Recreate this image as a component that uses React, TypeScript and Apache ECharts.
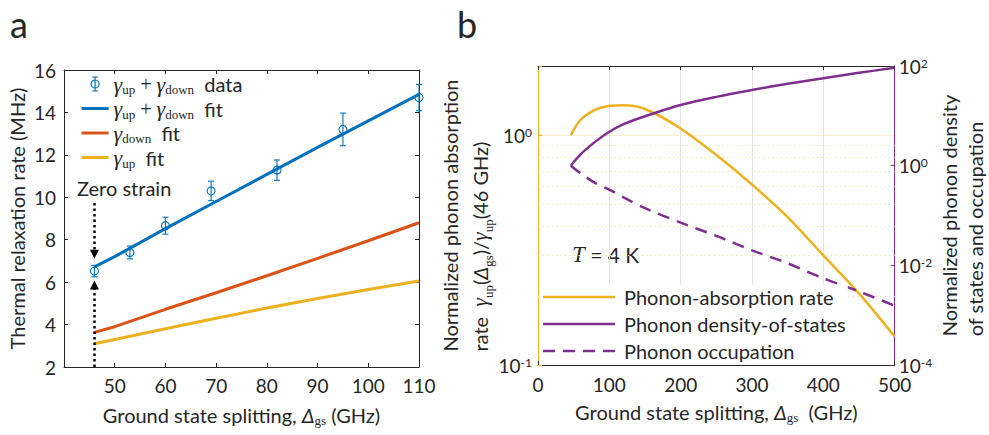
import React, { useEffect, useRef } from 'react';
import * as echarts from 'echarts';

const BLUE = '#0072BD';
const RED = '#D95319';
const YELLOW = '#EDB120';
const PURPLE = '#7E2F8E';
const INK = '#262626';
const SANS = 'Lato, "Noto Sans", "Liberation Sans", sans-serif';
const SERIF = '"Liberation Serif", "DejaVu Serif", serif';

// ---------- Panel a data ----------
const splittingGHz = [46, 53, 60, 69, 82, 95, 110];
const rateMHz = [6.52, 7.4, 8.66, 10.3, 11.28, 13.2, 14.7];
const rateErrMHz = [0.27, 0.3, 0.4, 0.46, 0.48, 0.77, 0.62];

const fitSplittingGHz = [46, 50, 60, 70, 80, 90, 100, 110];
const fitSumMHz = [6.72, 7.2, 8.52, 9.8, 11.08, 12.35, 13.6, 14.85];
const fitDownMHz = [3.63, 3.9, 4.72, 5.5, 6.3, 7.12, 7.95, 8.8];
const fitUpMHz = [3.1, 3.3, 3.8, 4.3, 4.78, 5.23, 5.65, 6.05];

const zeroStrainGHz = 46;

// ---------- Panel b data ----------
const splittingB = [46, 60, 80, 100, 120, 150, 200, 250, 300, 350, 400, 450, 500];
const absorptionRate = [1.0, 1.17, 1.29, 1.34, 1.35, 1.3, 1.07, 0.82, 0.61, 0.44, 0.3, 0.205, 0.133];
const densityOfStates = [1, 1.7, 3.0, 4.8, 6.8, 9.8, 16.5, 24, 33, 44, 57, 73, 92];
const occupation = [1, 0.7, 0.45, 0.33, 0.23, 0.14, 0.072, 0.039, 0.02, 0.011, 0.0055, 0.003, 0.00155];
const minorGridB = [0.2, 0.3, 0.4, 0.5, 0.6, 0.7, 0.8, 0.9];

const NAME_DATA = 'γup + γdown data';
const NAME_SUM = 'γup + γdown fit';
const NAME_DOWN = 'γdown fit';
const NAME_UP = 'γup fit';
const NAME_ABS = 'Phonon-absorption rate';
const NAME_DOS = 'Phonon density-of-states';
const NAME_OCC = 'Phonon occupation';

const legendALabels: Record<string, string> = {
  [NAME_DATA]: '{g|γ}{s|up}{p| + }{g|γ}{s|down}{t|  data}',
  [NAME_SUM]: '{g|γ}{s|up}{p| + }{g|γ}{s|down}{t|  fit}',
  [NAME_DOWN]: '{g|γ}{s|down}{t|  fit}',
  [NAME_UP]: '{g|γ}{s|up}{t|  fit}',
};

const zip = (xs: number[], ys: number[]) => xs.map((x, i) => [x, ys[i]]);

const makeRich = (L: number, left: boolean) => {
  const a = left ? { align: 'left' } : {};
  return {
    t: { fontFamily: SANS, fontSize: 20, lineHeight: L, color: INK, ...a },
    g: { fontFamily: SERIF, fontStyle: 'italic', fontSize: 22, lineHeight: L, color: INK, ...a },
    d: { fontFamily: SANS, fontStyle: 'italic', fontSize: 20, lineHeight: L, color: INK, ...a },
    p: { fontFamily: SERIF, fontSize: 20, lineHeight: L, color: INK, ...a },
    s: { fontFamily: SERIF, fontSize: 13, lineHeight: Math.max(5, L - 17), verticalAlign: 'bottom', color: INK, ...a },
  };
};

const pow10Label = (allowed: (e: number) => boolean) => (v: number) => {
  const e = Math.log10(v);
  const r = Math.round(e);
  if (Math.abs(e - r) > 1e-6 || !allowed(r)) return '';
  return `10{sup|${r}}`;
};

const logLabelRich = {
  sup: { fontFamily: SANS, fontSize: 12, lineHeight: 10, verticalAlign: 'top', color: INK },
};

// legend icons (shapes only; sized to the legend item box)
const lineIcon = (w: number, t: number) =>
  `path://M0,0M${w},14M0,${7 - t / 2}L${w},${7 - t / 2}L${w},${7 + t / 2}L0,${7 + t / 2}Z`;
const dashIcon = (w: number, t: number) => {
  let d = `path://M0,0M${w},14`;
  for (let x = 0; x < w; x += 20) {
    const e = Math.min(w, x + 12);
    d += `M${x},${7 - t / 2}L${e},${7 - t / 2}L${e},${7 + t / 2}L${x},${7 + t / 2}Z`;
  }
  return d;
};

export default function App() {
  const ref = useRef<HTMLDivElement>(null);

  useEffect(() => {
    if (!ref.current) return;
    const chart = echarts.init(ref.current, null, { renderer: 'svg' });

    const boxAxis = (extra: any) => ({
      type: 'value',
      axisLine: { show: true, onZero: false, lineStyle: { color: INK, width: 1 } },
      axisTick: { show: true, inside: true, length: 4, lineStyle: { color: INK } },
      splitLine: { show: false },
      ...extra,
    });

    const option: any = {
      animation: false,
      backgroundColor: '#fff',
      textStyle: { fontFamily: SANS },
      grid: [
        { left: 64, top: 70, width: 355, height: 297 },
        { left: 538, top: 66, width: 361, height: 299 },
      ],
      xAxis: [
        boxAxis({
          gridIndex: 0,
          position: 'bottom',
          min: 40,
          max: 110,
          interval: 10,
          axisLabel: {
            formatter: (v: number) => (v === 40 ? '' : String(v)),
            fontSize: 19,
            color: INK,
            margin: 9,
            fontFamily: SANS,
          },
          name: '{t|Ground state splitting, }{d|Δ}{s|gs}{t| (GHz)}',
          nameLocation: 'middle',
          nameGap: 36,
          nameTextStyle: { fontSize: 20, color: INK, fontFamily: SANS, lineHeight: 24, rich: makeRich(24, false) },
        }),
        boxAxis({
          gridIndex: 0,
          position: 'top',
          min: 40,
          max: 110,
          interval: 10,
          axisLabel: { show: false },
        }),
        boxAxis({
          gridIndex: 1,
          position: 'bottom',
          min: 0,
          max: 500,
          interval: 100,
          splitLine: { show: true, lineStyle: { color: '#e3e3e3', width: 1 } },
          axisLabel: { fontSize: 19, color: INK, margin: 10, fontFamily: SANS },
          name: '{t|Ground state splitting, }{d|Δ}{s|gs}{t|  (GHz)}',
          nameLocation: 'middle',
          nameGap: 35,
          nameTextStyle: { fontSize: 20, color: INK, fontFamily: SANS, lineHeight: 24, rich: makeRich(24, false) },
        }),
        boxAxis({
          gridIndex: 1,
          position: 'top',
          min: 0,
          max: 500,
          interval: 100,
          axisLabel: { show: false },
        }),
      ],
      yAxis: [
        boxAxis({
          gridIndex: 0,
          position: 'left',
          min: 2,
          max: 16,
          interval: 2,
          axisLabel: { fontSize: 19, color: INK, margin: 8, fontFamily: SANS },
          name: 'Thermal relaxation rate (MHz)',
          nameLocation: 'middle',
          nameGap: 35,
          nameTextStyle: { fontSize: 20, color: INK, fontFamily: SANS, lineHeight: 24 },
        }),
        boxAxis({
          gridIndex: 0,
          position: 'right',
          min: 2,
          max: 16,
          interval: 2,
          axisLabel: { show: false },
        }),
        {
          gridIndex: 1,
          type: 'log',
          logBase: 10,
          position: 'left',
          min: 0.1,
          max: 2,
          axisLine: { show: true, onZero: false, lineStyle: { color: YELLOW, width: 1 } },
          axisTick: { show: true, inside: true, length: 4, lineStyle: { color: YELLOW } },
          splitLine: { show: true, lineStyle: { color: '#fbeecb', width: 1 } },
          axisLabel: {
            formatter: pow10Label(() => true),
            fontSize: 19,
            lineHeight: 18,
            color: INK,
            margin: 6,
            fontFamily: SANS,
            rich: logLabelRich,
          },
          name:
            '{t|Normalized phonon absorption}\n{t|rate  }{g|γ}{s|up}{t|(}{d|Δ}{s|gs}{t|)/}{g|γ}{s|up}{t|(46 GHz)}',
          nameLocation: 'middle',
          nameGap: 41,
          nameTextStyle: { fontSize: 20, color: INK, fontFamily: SANS, lineHeight: 30, rich: makeRich(30, true) },
        },
        {
          gridIndex: 1,
          type: 'log',
          logBase: 10,
          position: 'right',
          min: 0.0001,
          max: 100,
          interval: 2,
          axisLine: { show: true, onZero: false, lineStyle: { color: PURPLE, width: 1 } },
          axisTick: { show: true, inside: true, length: 4, lineStyle: { color: PURPLE } },
          splitLine: { show: false },
          axisLabel: {
            formatter: pow10Label((e) => e % 2 === 0),
            fontSize: 19,
            lineHeight: 18,
            color: INK,
            margin: 4,
            fontFamily: SANS,
            rich: logLabelRich,
          },
          name: '{t|Normalized phonon density}\n{t|of states and occupation}',
          nameLocation: 'middle',
          nameGap: 40,
          nameTextStyle: { fontSize: 20, color: INK, fontFamily: SANS, lineHeight: 26, rich: makeRich(26, true) },
        },
      ],
      legend: [
        {
          data: [
            {
              name: NAME_DATA,
              icon: 'path://M0,0M27,14M13.5,0L13.5,14M10.5,0L16.5,0M10.5,14L16.5,14M17.5,7A4,4,0,1,1,9.5,7A4,4,0,1,1,17.5,7',
              itemStyle: { color: 'rgba(0,0,0,0)', borderColor: BLUE, borderWidth: 1.2 },
            },
            { name: NAME_SUM, icon: lineIcon(27, 3), itemStyle: { color: BLUE, borderWidth: 0 } },
            { name: NAME_DOWN, icon: lineIcon(27, 3), itemStyle: { color: RED, borderWidth: 0 } },
            { name: NAME_UP, icon: lineIcon(27, 3), itemStyle: { color: YELLOW, borderWidth: 0 } },
          ],
          orient: 'vertical',
          left: 81,
          top: 72,
          padding: 0,
          itemWidth: 27,
          itemHeight: 14,
          itemGap: 0.5,
          selectedMode: false,
          formatter: (n: string) => legendALabels[n] || n,
          textStyle: { color: INK, fontFamily: SANS, fontSize: 20, lineHeight: 24, rich: makeRich(24, false) },
        },
        {
          data: [
            { name: NAME_ABS, icon: lineIcon(72, 2.5), itemStyle: { color: YELLOW, borderWidth: 0 } },
            { name: NAME_DOS, icon: lineIcon(72, 2.5), itemStyle: { color: PURPLE, borderWidth: 0 } },
            { name: NAME_OCC, icon: dashIcon(72, 2.5), itemStyle: { color: PURPLE, borderWidth: 0 } },
          ],
          orient: 'vertical',
          left: 539,
          top: 285,
          padding: [0, 2, 2, 4],
          backgroundColor: '#fff',
          itemWidth: 72,
          itemHeight: 14,
          itemGap: 3,
          selectedMode: false,
          textStyle: { color: INK, fontFamily: SANS, fontSize: 20, lineHeight: 24, padding: [0, 0, 0, 4] },
        },
      ],
      graphic: [
        { type: 'text', x: 10, y: 24, style: { text: 'a', fontSize: 36, fontFamily: SANS, fill: INK, textVerticalAlign: 'middle' } },
        { type: 'text', x: 457, y: 24, style: { text: 'b', fontSize: 36, fontFamily: SANS, fill: INK, textVerticalAlign: 'middle' } },
        {
          type: 'text',
          x: 77,
          y: 188,
          style: { text: 'Zero strain', fontSize: 20, fontFamily: SANS, fill: INK, textVerticalAlign: 'middle' },
        },
        {
          type: 'text',
          x: 572,
          y: 254,
          style: {
            text: '{i|T}{n| = 4 K}',
            textVerticalAlign: 'middle',
            rich: {
              i: { fontFamily: SERIF, fontStyle: 'italic', fontSize: 23, fill: INK },
              n: { fontFamily: SANS, fontSize: 21, fill: INK },
            },
          },
        },
      ],
      series: [
        {
          name: NAME_DATA,
          type: 'custom',
          xAxisIndex: 0,
          yAxisIndex: 0,
          itemStyle: { color: BLUE },
          encode: { x: 0, y: 1 },
          data: splittingGHz.map((x, i) => [x, rateMHz[i], rateErrMHz[i]]),
          renderItem: (params: any, api: any) => {
            const x = api.value(0);
            const y = api.value(1);
            const e = api.value(2);
            const c = api.coord([x, y]);
            const top = api.coord([x, y + e]);
            const bot = api.coord([x, y - e]);
            const cap = 3;
            const style = { stroke: BLUE, lineWidth: 1.1, fill: 'none' };
            return {
              type: 'group',
              children: [
                { type: 'line', shape: { x1: c[0], y1: top[1], x2: c[0], y2: bot[1] }, style },
                { type: 'line', shape: { x1: c[0] - cap, y1: top[1], x2: c[0] + cap, y2: top[1] }, style },
                { type: 'line', shape: { x1: c[0] - cap, y1: bot[1], x2: c[0] + cap, y2: bot[1] }, style },
                { type: 'circle', shape: { cx: c[0], cy: c[1], r: 4 }, style },
              ],
            };
          },
          z: 5,
        },
        {
          name: NAME_SUM,
          type: 'line',
          xAxisIndex: 0,
          yAxisIndex: 0,
          data: zip(fitSplittingGHz, fitSumMHz),
          symbol: 'none',
          color: BLUE,
          lineStyle: { color: BLUE, width: 3 },
          z: 3,
        },
        {
          name: NAME_DOWN,
          type: 'line',
          xAxisIndex: 0,
          yAxisIndex: 0,
          data: zip(fitSplittingGHz, fitDownMHz),
          symbol: 'none',
          color: RED,
          lineStyle: { color: RED, width: 3 },
        },
        {
          name: NAME_UP,
          type: 'line',
          xAxisIndex: 0,
          yAxisIndex: 0,
          data: zip(fitSplittingGHz, fitUpMHz),
          symbol: 'none',
          color: YELLOW,
          lineStyle: { color: YELLOW, width: 3 },
          markLine: {
            silent: true,
            symbol: ['none', 'triangle'],
            symbolSize: 9,
            precision: 4,
            label: { show: false },
            emphasis: { disabled: true },
            lineStyle: { color: '#000', width: 2.5, type: [2.5, 3] },
            data: [
              [{ coord: [zeroStrainGHz, 9.73] }, { coord: [zeroStrainGHz, 7.32] }],
              [{ coord: [zeroStrainGHz, 2] }, { coord: [zeroStrainGHz, 5.86] }],
            ],
          },
        },
        {
          name: NAME_ABS,
          type: 'line',
          xAxisIndex: 2,
          yAxisIndex: 2,
          data: zip(splittingB, absorptionRate),
          symbol: 'none',
          smooth: 0.3,
          color: YELLOW,
          lineStyle: { color: YELLOW, width: 2.5 },
          markLine: {
            silent: true,
            symbol: ['none', 'none'],
            label: { show: false },
            emphasis: { disabled: true },
            lineStyle: { color: '#f3e4b4', width: 1, type: [1.5, 3] },
            data: minorGridB.map((v) => ({ yAxis: v })),
            z: 1,
          },
        },
        {
          name: NAME_DOS,
          type: 'line',
          xAxisIndex: 2,
          yAxisIndex: 3,
          data: zip(splittingB, densityOfStates),
          symbol: 'none',
          smooth: 0.3,
          color: PURPLE,
          lineStyle: { color: PURPLE, width: 2.5 },
        },
        {
          name: NAME_OCC,
          type: 'line',
          xAxisIndex: 2,
          yAxisIndex: 3,
          data: zip(splittingB, occupation),
          symbol: 'none',
          smooth: 0.3,
          color: PURPLE,
          lineStyle: { color: PURPLE, width: 2.5, type: [12, 8] },
        },
      ],
    };

    chart.setOption(option);
    return () => chart.dispose();
  }, []);

  return (
    <div
      ref={ref}
      style={{ position: 'fixed', left: 0, top: 0, width: 989, height: 435, background: '#fff' }}
    />
  );
}
